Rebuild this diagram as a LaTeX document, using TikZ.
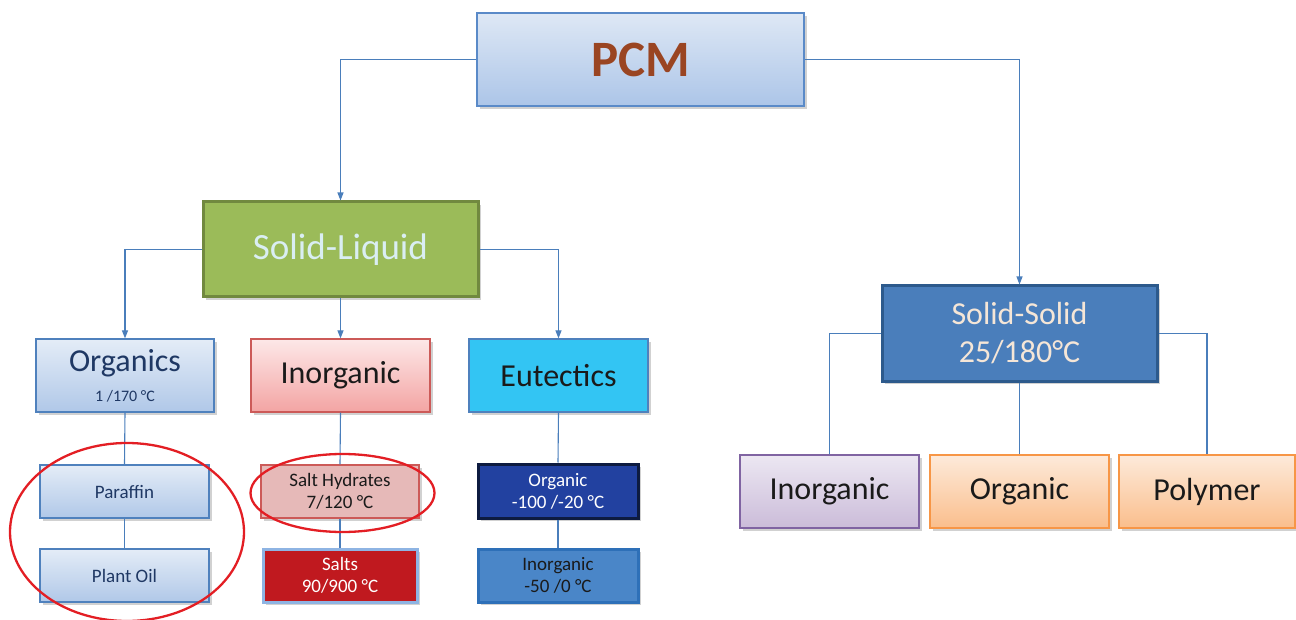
\documentclass[tikz,border=0pt]{standalone}
\usepackage{fontspec}
\setmainfont{Carlito}
\usetikzlibrary{arrows.meta,shadows,calc,shapes.geometric}
\definecolor{conn}{HTML}{4A7EBB}
\definecolor{pcmtxt}{HTML}{9A4522}
\definecolor{navy}{HTML}{1F3864}
\definecolor{dtxt}{HTML}{1A1A1A}
\definecolor{ellred}{HTML}{E31E24}
\definecolor{bblue}{HTML}{4F81BD}
\definecolor{slfill}{HTML}{9BBB59}
\definecolor{sldraw}{HTML}{71893F}
\definecolor{sltxt}{RGB}{218,238,243}
\definecolor{ssfill}{HTML}{4A7EBB}
\definecolor{ssdraw}{HTML}{2D5A8C}
\definecolor{sstxt}{RGB}{245,230,215}
\definecolor{pcmdraw}{RGB}{90,138,200}
\definecolor{pcmtop}{RGB}{222,232,245}
\definecolor{pcmbot}{RGB}{172,197,232}
\definecolor{bgtop}{RGB}{228,236,247}
\definecolor{bgbot}{RGB}{176,200,232}
\definecolor{pkdraw}{RGB}{204,90,88}
\definecolor{pktop}{RGB}{253,232,232}
\definecolor{pkbot}{RGB}{243,164,163}
\definecolor{pudraw}{RGB}{128,100,162}
\definecolor{putop}{RGB}{236,231,242}
\definecolor{pubot}{RGB}{203,188,217}
\definecolor{ordraw}{RGB}{247,150,70}
\definecolor{ortop}{RGB}{253,234,218}
\definecolor{orbot}{RGB}{250,190,140}
\definecolor{eutfill}{RGB}{51,197,243}
\definecolor{shfill}{RGB}{230,185,184}
\definecolor{saltfill}{RGB}{192,25,31}
\definecolor{saltdraw}{RGB}{142,180,227}
\definecolor{eofill}{RGB}{34,65,160}
\definecolor{eodraw}{RGB}{13,27,64}
\definecolor{eifill}{RGB}{74,134,200}
\definecolor{eidraw}{RGB}{46,112,184}
\tikzset{
  bx/.style={draw, rectangle, align=center, inner sep=0pt,
    drop shadow={shadow xshift=2.5pt, shadow yshift=-3pt, opacity=0.3, fill=black!60}},
  bluegrad/.style={bx, draw=bblue, line width=1.2pt, shading=axis, top color=bgtop, bottom color=bgbot, text=navy},
  pinkgrad/.style={bx, draw=pkdraw, line width=1.2pt, shading=axis, top color=pktop, bottom color=pkbot, text=dtxt},
  purpgrad/.style={bx, draw=pudraw, line width=1.2pt, shading=axis, top color=putop, bottom color=pubot, text=dtxt},
  orangrad/.style={bx, draw=ordraw, line width=1.2pt, shading=axis, top color=ortop, bottom color=orbot, text=dtxt},
  arr/.style={draw=conn, line width=1.1pt, -{Triangle[length=8pt,width=6pt]}},
  ln/.style={draw=conn, line width=1.1pt},
  ell/.style={draw=ellred, line width=2.3pt},
  big/.style={font=\fontsize{32}{36}\selectfont},
  small/.style={font=\fontsize{19}{22}\selectfont},
}
\begin{document}
\begin{tikzpicture}[x=1pt,y=-1pt]
\useasboundingbox (0,0) rectangle (1296,620);
% top
\node[bx, draw=pcmdraw, line width=1.2pt, shading=axis, top color=pcmtop, bottom color=pcmbot,
  minimum width=327, minimum height=93, text=pcmtxt, font=\fontsize{51}{56}\selectfont\bfseries]
  (pcm) at (640.5,59.5) {PCM};
\node[bx, fill=slfill, draw=sldraw, line width=3pt, minimum width=275, minimum height=95,
  text=sltxt, font=\fontsize{37}{40}\selectfont]
  (sl) at (340.5,249.5) {Solid-Liquid};
\node[bx, fill=ssfill, draw=ssdraw, line width=3pt, minimum width=275, minimum height=95,
  text=sstxt, font=\fontsize{32}{38}\selectfont]
  (ss) at (1019.5,333.5) {Solid-Solid\\25/180°C};
% second level
\node[bluegrad, minimum width=178, minimum height=73, font=\fontsize{16}{30}\selectfont] (org) at (125,375.5)
  {{\fontsize{32}{32}\selectfont Organics}\\1 /170 °C};
\node[pinkgrad, big, minimum width=179, minimum height=73] (inorg) at (340.5,375.5) {Inorganic};
\node[bx, fill=eutfill, draw=bblue, line width=1.2pt, big, text=dtxt,
  minimum width=179, minimum height=73] (eut) at (558.5,375.5) {Eutectics};
% third level left
\node[bluegrad, small, minimum width=169, minimum height=53] (par) at (124.5,491.5) {Paraffin};
\node[bluegrad, small, minimum width=169, minimum height=53] (plant) at (124.5,575.5) {Plant Oil};
\node[bx, fill=shfill, draw=pkdraw, line width=1.2pt,
  small, text=dtxt, minimum width=158, minimum height=53] (sh) at (340,491.5) {Salt Hydrates\\7/120 °C};
\node[bx, fill=saltfill, draw=saltdraw, line width=3pt,
  small, text=white, minimum width=154, minimum height=53] (salts) at (340,575.5) {Salts\\90/900 °C};
\node[bx, fill=eofill, draw=eodraw, line width=3pt,
  small, text=white, minimum width=160, minimum height=54] (eorg) at (558,491) {Organic\\-100 /-20 °C};
\node[bx, fill=eifill, draw=eidraw, line width=3pt,
  small, text=dtxt, minimum width=160, minimum height=53] (einorg) at (558,575.5) {Inorganic\\-50 /0 °C};
% third level right
\node[purpgrad, big, minimum width=179, minimum height=73] (ssi) at (829.5,491.5) {Inorganic};
\node[orangrad, big, minimum width=179, minimum height=73] (sso) at (1019.5,491.5) {Organic};
\node[orangrad, big, minimum width=176, minimum height=73] (ssp) at (1207,491.5) {Polymer};
% connectors
\draw[arr] (pcm.west) -| (sl.north);
\draw[arr] (pcm.east) -| (ss.north);
\draw[arr] (sl.west) -| (org.north);
\draw[arr] (sl.south) -- (inorg.north);
\draw[arr] (sl.east) -| (eut.north);
\draw[ln] (org.south) -- (par.north);
\draw[ln] (par.south) -- (plant.north);
\draw[ln] (inorg.south) -- (sh.north);
\draw[ln] (sh.south) -- (salts.north);
\draw[ln] (eut.south) -- (eorg.north);
\draw[ln] (eorg.south) -- (einorg.north);
\draw[ln] (ss.west) -| (ssi.north);
\draw[ln] (ss.south) -- (sso.north);
\draw[ln] (ss.east) -| (ssp.north);
% ellipses
\node[ell, ellipse, minimum width=234, minimum height=178, inner sep=0pt] (e1) at (127,532) {};
\node[ell, ellipse, minimum width=184, minimum height=78, inner sep=0pt] (e2) at (342.5,493) {};
\end{tikzpicture}
\end{document}
